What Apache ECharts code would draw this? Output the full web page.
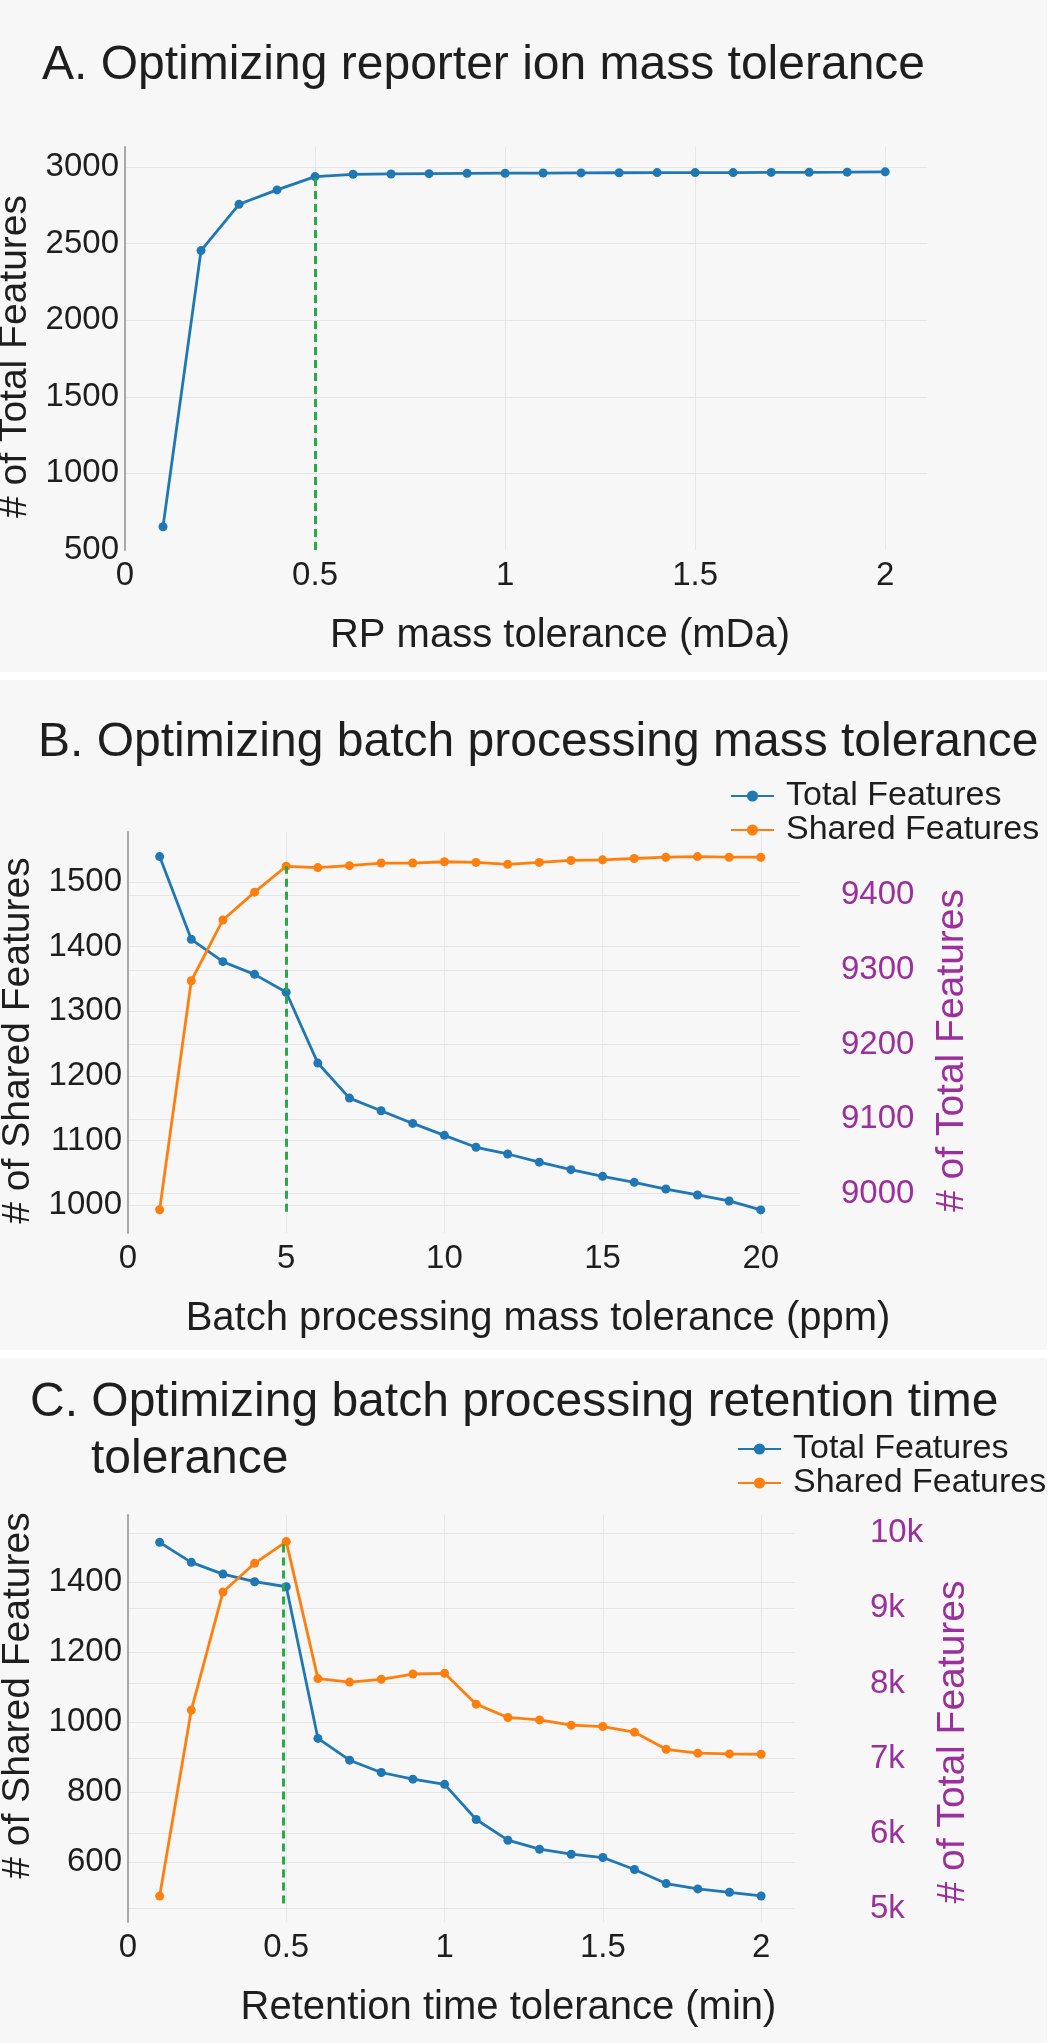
<!DOCTYPE html>
<html><head><meta charset="utf-8">
<script src="https://cdn.jsdelivr.net/npm/echarts@6/dist/echarts.min.js"></script>
<style>
html,body{margin:0;padding:0;background:#ffffff;}
#wrap{position:relative;width:1050px;height:2043px;overflow:hidden;}
.panel{position:absolute;left:0;width:1047px;background:#f7f7f7;}
#chart{position:absolute;left:0;top:0;width:1050px;height:2043px;}
</style></head><body>
<div id="wrap">
<div class="panel" style="top:0;height:672px"></div>
<div class="panel" style="top:680px;height:670px"></div>
<div class="panel" style="top:1358px;height:685px"></div>
<div id="chart"></div>
</div>
<script>
// ---- Panel A: reporter ion mass tolerance ----
const rpTolerance = [0.1,0.2,0.3,0.4,0.5,0.6,0.7,0.8,0.9,1.0,1.1,1.2,1.3,1.4,1.5,1.6,1.7,1.8,1.9,2.0];
const rpTotal = [652,2454,2756,2850,2937,2952,2954,2956,2958,2959,2960,2961,2962,2963,2963,2963,2964,2965,2966,2968];
const rpChosen = [0.5, 500];          // chosen tolerance and lower end of its guide line

// ---- Panel B: batch processing mass tolerance ----
const batchTolerance = [1,2,3,4,5,6,7,8,9,10,11,12,13,14,15,16,17,18,19,20];
const batchTotal = [9452,9341,9311,9294,9270,9175,9128,9111,9094,9078,9062,9053,9042,9032,9023,9015,9006,8998,8990,8978];
const batchShared = [993,1347,1441,1484,1524,1522,1525,1529,1529,1531,1530,1527,1530,1533,1534,1536,1538,1539,1538,1538];
const batchChosen = [5, 990];

// ---- Panel C: batch processing retention time tolerance ----
const rtTolerance = [0.1,0.2,0.3,0.4,0.5,0.6,0.7,0.8,0.9,1.0,1.1,1.2,1.3,1.4,1.5,1.6,1.7,1.8,1.9,2.0];
const rtTotal = [9880,9613,9457,9355,9288,7267,6977,6813,6724,6655,6187,5911,5791,5724,5680,5520,5333,5262,5217,5168];
const rtShared = [503,1034,1371,1453,1515,1124,1114,1122,1137,1139,1051,1013,1006,991,987,971,922,911,909,908];
const rtChosen = [0.49, 482];

const legendNames = ['Total Features','Shared Features'];

const FONT = '"Liberation Sans", Arial, Helvetica, sans-serif';
const BLUE = '#1f77b4', ORANGE = '#ff7f0e', GREEN = '#2aa84a', PURPLE = '#9b2f9b', INK = '#1e1e1e';
const GRIDC = '#e6e6e6';

const pairs = (xs, ys) => xs.map((x, i) => [x, ys[i]]);
const plain = v => String(v);

function xAxisOf(gridIndex, min, max, interval, name, pad) {
  return {
    type: 'value', gridIndex, min, max, interval,
    name, nameLocation: 'middle', nameGap: 66,
    nameTextStyle: {fontSize: 40, color: INK, fontFamily: FONT, padding: [0, 0, 0, pad]},
    axisLine: {show: false}, axisTick: {show: false},
    axisLabel: {fontSize: 33, color: INK, fontFamily: FONT, margin: 9, showMaxLabel: false, formatter: plain},
    splitLine: {show: true, showMinLine: false, showMaxLine: false, lineStyle: {color: GRIDC, width: 1}}
  };
}
function leftYOf(gridIndex, min, max, interval, name, pad, showMin) {
  const ax = {
    type: 'value', gridIndex, min, max, position: 'left',
    name, nameLocation: 'middle', nameGap: 69, nameRotate: 90,
    nameTextStyle: {fontSize: 39, color: INK, fontFamily: FONT, padding: pad},
    axisLine: {show: true, lineStyle: {color: '#a8a8a8', width: 2}}, axisTick: {show: false},
    axisLabel: {fontSize: 33, color: INK, fontFamily: FONT, margin: 6, showMinLabel: showMin, showMaxLabel: false, formatter: plain},
    splitLine: {show: true, showMinLine: false, showMaxLine: false, lineStyle: {color: GRIDC, width: 1}}
  };
  if (interval) ax.interval = interval;
  return ax;
}
function rightYOf(gridIndex, min, max, offset, nameGap, pad, fmt) {
  return {
    type: 'value', gridIndex, min, max, position: 'right', offset,
    name: '# of Total Features', nameLocation: 'middle', nameGap, nameRotate: 90,
    nameTextStyle: {fontSize: 39, color: PURPLE, fontFamily: FONT, padding: pad},
    axisLine: {show: false}, axisTick: {show: false},
    axisLabel: {fontSize: 33, color: PURPLE, fontFamily: FONT, margin: 8, showMinLabel: false, showMaxLabel: false, formatter: fmt},
    splitLine: {show: true, showMinLine: false, showMaxLine: false, lineStyle: {color: GRIDC, width: 1}}
  };
}
function lineSeries(name, color, xi, yi, data, guide) {
  const s = {
    type: 'line', name, xAxisIndex: xi, yAxisIndex: yi, data,
    color, symbol: 'circle', symbolSize: 9, showSymbol: true,
    lineStyle: {color, width: 2.8}, itemStyle: {color}
  };
  if (guide) {
    s.markLine = {
      silent: true, symbol: ['none', 'none'], label: {show: false}, animation: false,
      lineStyle: {color: GREEN, type: [8, 5], width: 3},
      data: [[{coord: guide[0]}, {coord: guide[1]}]]
    };
  }
  return s;
}
function legendOf(left, top) {
  return {
    data: legendNames, orient: 'vertical', left, top,
    itemWidth: 43, itemHeight: 14, itemGap: 0, padding: 0,
    textStyle: {fontSize: 34, color: INK, fontFamily: FONT, lineHeight: 32, padding: [0, 0, 0, 7]}
  };
}
const titleStyle = {fontSize: 48, fontWeight: 'normal', color: INK, fontFamily: FONT};

const option = {
  animation: false,
  backgroundColor: 'transparent',
  textStyle: {fontFamily: FONT},
  title: [
    {text: 'A. Optimizing reporter ion mass tolerance', left: 42, top: 42, padding: 0, textStyle: titleStyle},
    {text: 'B. Optimizing batch processing mass tolerance', left: 38, top: 719, padding: 0, textStyle: titleStyle},
    {text: 'C. Optimizing batch processing retention time', left: 30, top: 1379, padding: 0, textStyle: titleStyle},
    {text: 'tolerance', left: 91, top: 1436, padding: 0, textStyle: titleStyle}
  ],
  legend: [legendOf(730, 779), legendOf(737, 1432)],
  grid: [
    {left: 125, top: 147, width: 802, height: 403, outerBoundsMode: 'none', containLabel: false},
    {left: 128, top: 832, width: 672, height: 401, outerBoundsMode: 'none', containLabel: false},
    {left: 128, top: 1515, width: 667, height: 407, outerBoundsMode: 'none', containLabel: false}
  ],
  xAxis: [
    xAxisOf(0, 0, 2.11, 0.5, 'RP mass tolerance (mDa)', 68),
    xAxisOf(1, 0, 21.24, 5, 'Batch processing mass tolerance (ppm)', 148),
    xAxisOf(2, 0, 2.107, 0.5, 'Retention time tolerance (min)', 94)
  ],
  yAxis: [
    leftYOf(0, 500, 3130, 500, '# of Total Features', [0, 16, 0, 0], true),
    leftYOf(1, 957, 1577, null, '# of Shared Features', [0, 16, 0, 0], false),
    rightYOf(1, 8947, 9485, 33, 100, [0, 36, 0, 0], plain),
    leftYOf(2, 429, 1591, null, '# of Shared Features', [0, 0, 0, 46], false),
    rightYOf(2, 4821, 10244, 67, 66, [0, 47, 0, 0], v => (v / 1000) + 'k')
  ],
  series: [
    lineSeries('Total Features', BLUE, 0, 0, pairs(rpTolerance, rpTotal),
      [rpChosen, [rpChosen[0], rpTotal[rpTolerance.indexOf(rpChosen[0])]]]),
    lineSeries('Total Features', BLUE, 1, 2, pairs(batchTolerance, batchTotal)),
    lineSeries('Shared Features', ORANGE, 1, 1, pairs(batchTolerance, batchShared),
      [batchChosen, [batchChosen[0], batchShared[batchTolerance.indexOf(batchChosen[0])]]]),
    lineSeries('Total Features', BLUE, 2, 4, pairs(rtTolerance, rtTotal)),
    lineSeries('Shared Features', ORANGE, 2, 3, pairs(rtTolerance, rtShared),
      [rtChosen, [rtChosen[0], rtShared[rtTolerance.indexOf(0.5)]]])
  ]
};

const chart = echarts.init(document.getElementById('chart'), null, {renderer: 'canvas', width: 1050, height: 2043});
chart.setOption(option);
</script>
</body></html>
